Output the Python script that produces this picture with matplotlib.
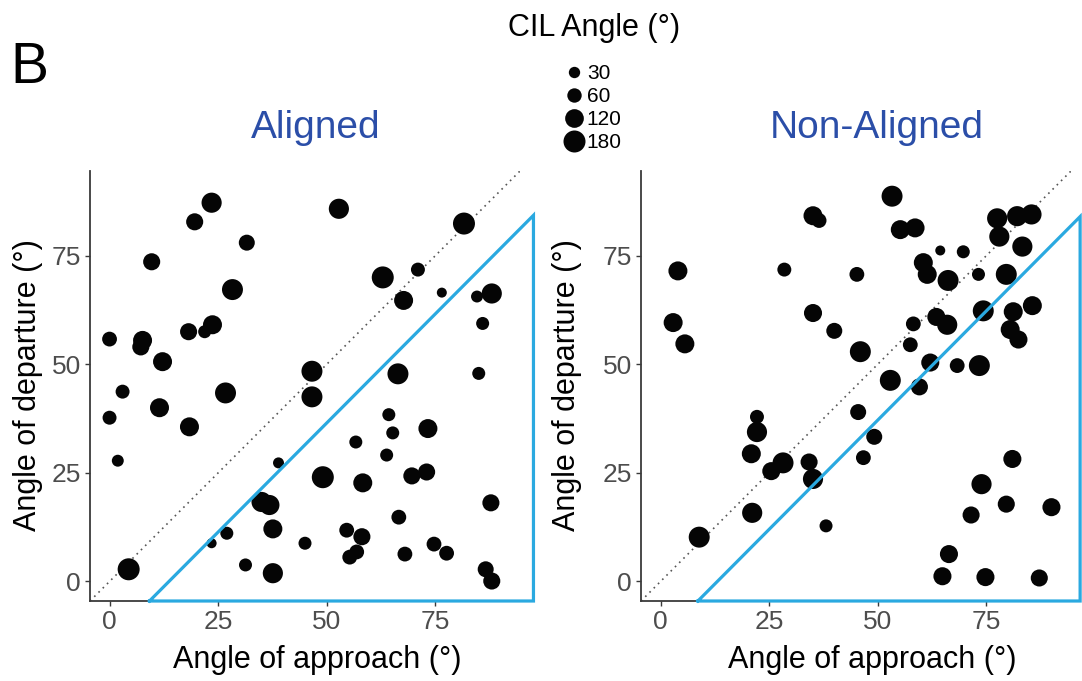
import numpy as np
import matplotlib
matplotlib.use("Agg")
import matplotlib.pyplot as plt
from matplotlib.lines import Line2D

plt.rcParams["font.family"] = ["Liberation Sans", "DejaVu Sans"]

# ---- data -------------------------------------------------------------
aligned_approach = [4.4, 0.0, 7.6, 7.2, 3.0, 12.2, 11.5, 0.0, 18.4, 1.9,
                    26.7, 23.5, 19.6, 31.6, 9.7, 28.3, 23.7, 21.9, 18.2, 52.8,
                    81.6, 62.9, 71.0, 76.5, 67.7, 88.0, 84.6, 85.9, 46.6, 46.6,
                    66.4, 85.0, 38.9, 64.3, 65.2, 73.3, 56.7, 63.8, 49.1, 58.3,
                    69.6, 73.0, 87.8, 35.0, 36.8, 37.6, 27.0, 23.5, 45.0, 66.6,
                    54.6, 58.1, 56.9, 55.3, 68.0, 74.7, 77.6, 31.3, 37.6, 86.6,
                    88.0]
aligned_departure = [2.8, 55.8, 55.5, 54.0, 43.7, 50.6, 40.0, 37.7, 35.6, 27.8,
                     43.4, 87.2, 82.8, 78.0, 73.6, 67.2, 59.1, 57.5, 57.5, 85.8,
                     82.4, 70.0, 71.8, 66.5, 64.7, 66.3, 65.6, 59.4, 48.4, 42.5,
                     47.8, 47.9, 27.3, 38.4, 34.2, 35.2, 32.1, 29.1, 24.0, 22.7,
                     24.3, 25.2, 18.1, 18.3, 17.6, 12.1, 11.1, 8.8, 8.8, 14.8,
                     11.8, 10.3, 6.8, 5.6, 6.3, 8.6, 6.5, 3.8, 1.9, 2.8,
                     0.1]
aligned_cil = [180, 65, 125, 95, 55, 125, 125, 55, 125, 35,
               160, 145, 95, 80, 95, 160, 125, 45, 95, 145,
               180, 180, 55, 20, 125, 145, 35, 45, 160, 160,
               160, 45, 27, 45, 45, 125, 45, 45, 180, 125,
               95, 95, 95, 145, 145, 125, 45, 20, 45, 65,
               65, 95, 65, 65, 65, 65, 65, 45, 145, 80,
               95]

nonaligned_approach = [4.0, 2.9, 5.6, 28.5, 35.1, 36.5, 45.2, 35.1, 40.0, 46.0,
                       53.3, 55.2, 58.6, 64.4, 69.7, 60.5, 61.4, 66.2, 73.2, 79.6,
                       77.5, 78.0, 82.1, 85.4, 83.3, 58.2, 63.5, 66.0, 57.5, 74.3,
                       81.2, 85.6, 80.5, 82.4, 62.1, 68.3, 73.4, 52.9, 59.6, 45.5,
                       49.2, 46.7, 8.9, 22.2, 22.2, 20.9, 25.5, 28.2, 21.1, 34.2,
                       35.1, 38.1, 81.0, 73.9, 79.6, 90.0, 71.5, 66.4, 64.9, 74.8,
                       87.2]
nonaligned_departure = [71.5, 59.6, 54.7, 71.8, 84.2, 83.1, 70.7, 61.8, 57.7, 52.9,
                        88.7, 81.0, 81.4, 76.2, 75.9, 73.4, 70.7, 69.3, 70.7, 70.7,
                        83.6, 79.4, 84.1, 84.5, 77.1, 59.3, 60.9, 59.1, 54.5, 62.3,
                        62.1, 63.5, 58.0, 55.7, 50.4, 49.7, 49.7, 46.3, 44.8, 39.0,
                        33.3, 28.5, 10.2, 37.9, 34.4, 29.4, 25.4, 27.3, 15.8, 27.5,
                        23.6, 12.8, 28.2, 22.4, 17.8, 17.1, 15.3, 6.3, 1.2, 1.0,
                        0.8]
nonaligned_cil = [125, 125, 125, 55, 125, 65, 65, 110, 80, 160,
                  160, 125, 125, 20, 45, 125, 125, 160, 45, 160,
                  145, 145, 145, 145, 145, 65, 110, 145, 65, 160,
                  125, 125, 125, 110, 110, 65, 160, 160, 95, 80,
                  80, 65, 160, 55, 145, 125, 110, 160, 145, 95,
                  145, 45, 110, 145, 95, 110, 95, 110, 110, 110,
                  95]

legend_values = [30, 60, 120, 180]
ticks = [0, 25, 50, 75]
panel_titles = ["Aligned", "Non-Aligned"]

# blue outline of the region below the reference diagonal (x, y corners)
region_left = ([9.2, 97.6, 97.6, 9.2], [-4.5, 84.3, -4.5, -4.5])
region_right = ([8.6, 96.6, 96.6, 8.6], [-4.5, 84.0, -4.5, -4.5])

# ---- styling ----------------------------------------------------------
LIM = (-4.5, 94.5)
TITLE_BLUE = "#2B4EA8"
REGION_BLUE = "#2AA9E0"
TICK_GREY = "#4D4D4D"


def diameter_px(v):
    return 4 + 18 * np.sqrt(np.asarray(v, dtype=float) / 180.0)


def marker_area(v):
    return (0.72 * diameter_px(v)) ** 2


W, H = 1082, 681
fig = plt.figure(figsize=(W / 100, H / 100), dpi=100)
fig.patch.set_facecolor("white")

ax1 = fig.add_axes([90 / W, 1 - 601 / H, 430 / W, 430 / H])
ax2 = fig.add_axes([641 / W, 1 - 601 / H, 430 / W, 430 / H])

panels = [
    (ax1, aligned_approach, aligned_departure, aligned_cil, region_left),
    (ax2, nonaligned_approach, nonaligned_departure, nonaligned_cil, region_right),
]

for ax, xs, ys, cil, region in panels:
    ax.set_xlim(*LIM)
    ax.set_ylim(*LIM)
    ax.plot(LIM, LIM, linestyle=(0, (1, 2.6)), color="#555555", lw=1.2, zorder=1)
    ax.scatter(xs, ys, s=marker_area(cil), color="#050505", edgecolors="none",
               zorder=3)
    ax.plot(region[0], region[1], color=REGION_BLUE, lw=2.3, clip_on=False,
            zorder=4, solid_joinstyle="miter")
    for side in ("top", "right"):
        ax.spines[side].set_visible(False)
    for side in ("left", "bottom"):
        ax.spines[side].set_color("#3a3a3a")
        ax.spines[side].set_linewidth(1.3)
    ax.set_xticks(ticks)
    ax.set_yticks(ticks)
    ax.tick_params(axis="both", colors="#3a3a3a", labelcolor=TICK_GREY,
                   labelsize=19, length=3.5, width=1.0, pad=3)

# panel titles
fig.text(316 / W, 1 - 138 / H, panel_titles[0], color=TITLE_BLUE, fontsize=28,
         ha="center", va="baseline")
fig.text(877 / W, 1 - 138 / H, panel_titles[1], color=TITLE_BLUE, fontsize=28,
         ha="center", va="baseline")

# axis labels
for cx in (317, 872):
    fig.text(cx / W, 1 - 660 / H, "Angle of approach (°)", fontsize=22,
             ha="center", va="center")
for cx in (28, 567):
    fig.text(cx / W, 1 - 385 / H, "Angle of departure (°)", fontsize=22,
             rotation=90, ha="center", va="center")

# panel letter
fig.text(10 / W, 1 - 83 / H, "B", fontsize=41, ha="left", va="baseline")

# size legend
fig.text(594 / W, 1 - 28 / H, "CIL Angle (°)", fontsize=22, ha="center",
         va="center")
handles = [Line2D([], [], linestyle="none", marker="o", color="#050505",
                  markeredgewidth=0, markersize=0.72 * diameter_px(v))
           for v in legend_values]
fig.legend(handles, [str(v) for v in legend_values], loc="upper left",
           bbox_to_anchor=(566 / W, 1 - 64 / H), frameon=False, fontsize=15,
           labelspacing=0.2, handlelength=0.8, handletextpad=0.2,
           borderpad=0.0, borderaxespad=0.0)

fig.savefig("out.png", dpi=100, facecolor="white")
